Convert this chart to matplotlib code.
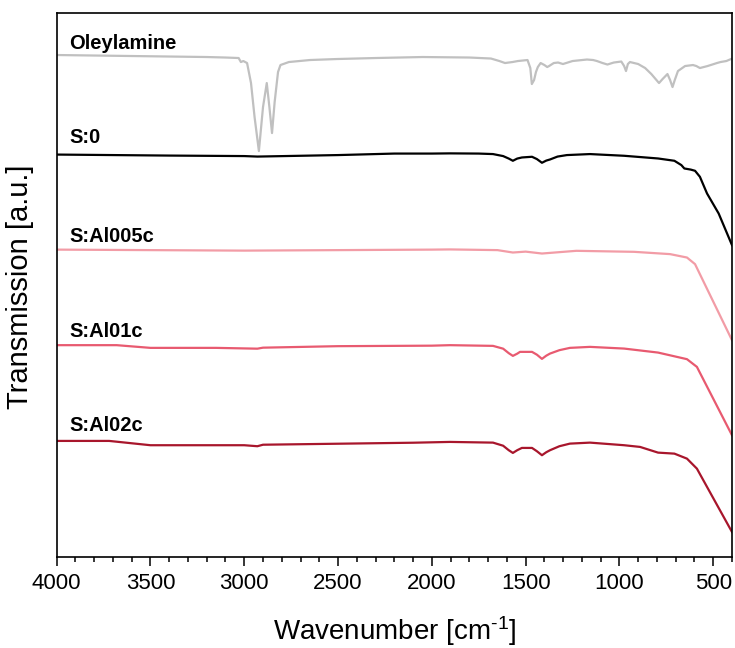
import matplotlib
matplotlib.use("Agg")
import matplotlib.pyplot as plt
from matplotlib.ticker import MultipleLocator

plt.rcParams['font.family'] = ['Liberation Sans', 'DejaVu Sans']
plt.rcParams['mathtext.fontset'] = 'custom'
plt.rcParams['mathtext.rm'] = 'Liberation Sans'
plt.rcParams['mathtext.it'] = 'Liberation Sans:italic'

# ---- data (wavenumber in cm^-1, transmission in arbitrary offset units) ----
ole_wn = [4000, 3800, 3600, 3400, 3200, 3100, 3030, 3018, 3005, 2985, 2964, 2945, 2922, 2900,
          2880, 2866, 2852, 2838, 2820, 2807, 2762, 2650, 2506, 2300, 2049, 1800, 1685, 1640,
          1610, 1570, 1541, 1490, 1475, 1467, 1455, 1445, 1435, 1420, 1400, 1385, 1375, 1350,
          1327, 1301, 1250, 1173, 1140, 1120, 1090, 1064, 1030, 990, 975, 965, 955, 944, 900,
          863, 830, 789, 770, 744, 730, 717, 705, 688, 650, 608, 590, 571, 530, 480, 461, 430, 405]
ole_T = [502, 501.5, 501, 500.5, 500, 499.5, 499, 495, 496, 494, 474, 440, 406, 450,
         474, 450, 424, 455, 485, 492, 495, 497, 498, 499, 500, 499.5, 498.5, 496,
         494, 495, 496, 497, 489, 473, 477, 485, 490, 494, 492, 490, 491, 494,
         494.5, 493, 496, 497.5, 497, 496, 494, 492.5, 494.5, 495.5, 491, 486, 493, 495, 493,
         489, 483, 474, 478, 483, 477, 470, 477, 486, 491, 492, 491, 489, 491, 494, 495, 496, 498]

s0_wn = [4000, 3700, 3400, 3000, 2930, 2500, 2200, 2000, 1903, 1750, 1674, 1620, 1590, 1568, 1545,
         1520, 1490, 1466, 1440, 1413, 1390, 1370, 1330, 1280, 1157, 975, 794, 707, 670, 654,
         620, 597, 571, 533, 471, 400]
s0_T = [402.5, 402, 401.5, 401, 400.5, 402, 403.5, 403.5, 403.7, 403.5, 403, 401, 398.5, 396.3, 398.5,
        399.6, 400, 400.3, 398, 394.3, 396.5, 397.6, 400.5, 402, 403, 401.3, 398.6, 396.3, 392, 388.6,
        387.5, 386.3, 380.3, 363.6, 343.6, 312]

al005_wn = [4000, 3500, 3000, 2500, 2000, 1903, 1650, 1568, 1500, 1413, 1230, 922, 730, 640, 597, 400]
al005_T = [307.5, 307, 306.5, 307, 307.5, 307.7, 307, 304.6, 305.5, 303.6, 306.3, 305.3, 303, 299.6, 293, 217]

al01_wn = [4000, 3680, 3500, 3150, 2930, 2900, 2500, 2000, 1903, 1674, 1620, 1590, 1568, 1545, 1530,
           1466, 1440, 1413, 1390, 1370, 1320, 1264, 1157, 975, 794, 640, 587, 400]
al01_T = [212, 212, 209.3, 209.3, 208.5, 209.5, 211, 211.5, 212, 211.3, 208.5, 204, 201.3, 203.5, 205.3,
          205.3, 202.5, 198.3, 201.5, 203.6, 207, 209.3, 210.3, 208.6, 204.6, 198, 190.3, 122]

al02_wn = [4000, 3720, 3500, 3000, 2930, 2900, 2500, 2100, 1903, 1674, 1620, 1590, 1568, 1545, 1520,
           1466, 1440, 1413, 1390, 1370, 1320, 1264, 1157, 975, 890, 794, 707, 640, 587, 400]
al02_T = [116.3, 116.3, 112, 112, 111, 112.5, 113.5, 114.5, 115.3, 114.6, 111.5, 107, 104.3, 107, 109.3,
          109.3, 106, 102, 105, 107, 111, 113.6, 114.6, 112, 110.3, 104.6, 103.6, 98.6, 88.6, 25.3]

names = ['Oleylamine', 'S:0', 'S:Al005c', 'S:Al01c', 'S:Al02c']
label_y = [508, 414, 315.5, 220.5, 126.5]
colors = ['#c0c0c0', '#000000', '#f29ca6', '#e85a70', '#a8162c']
series = [(ole_wn, ole_T), (s0_wn, s0_T), (al005_wn, al005_T), (al01_wn, al01_T), (al02_wn, al02_T)]

fig = plt.figure(figsize=(7.35, 6.48), dpi=100)
ax = fig.add_axes([0.0771, 0.14, 0.9188, 0.8404])

for (wn, T), c, name, ly in zip(series, colors, names, label_y):
    ax.plot(wn, T, color=c, lw=1.6, solid_joinstyle='round')
    ax.text(3933, ly, name, fontsize=14.5, fontweight='bold', color='black',
            ha='left', va='baseline')

ax.set_xlim(4000, 400)
ax.set_ylim(0, 544.3)
ax.set_yticks([])
ax.xaxis.set_major_locator(MultipleLocator(500))
ax.xaxis.set_minor_locator(MultipleLocator(100))
ax.tick_params(axis='x', which='major', direction='out', length=6.5, width=1.1,
               labelsize=16, pad=5)
ax.tick_params(axis='x', which='minor', direction='out', length=3.6, width=1.1)
for sp in ax.spines.values():
    sp.set_linewidth(1.2)

ax.set_xlabel(r'Wavenumber [cm$^{\text{-}1}$]', fontsize=20)
ax.set_ylabel('Transmission [a.u.]', fontsize=21)
ax.xaxis.set_label_coords(0.5, -0.105)
ax.yaxis.set_label_coords(-0.033, 0.497)

fig.savefig('out.png', dpi=100)
